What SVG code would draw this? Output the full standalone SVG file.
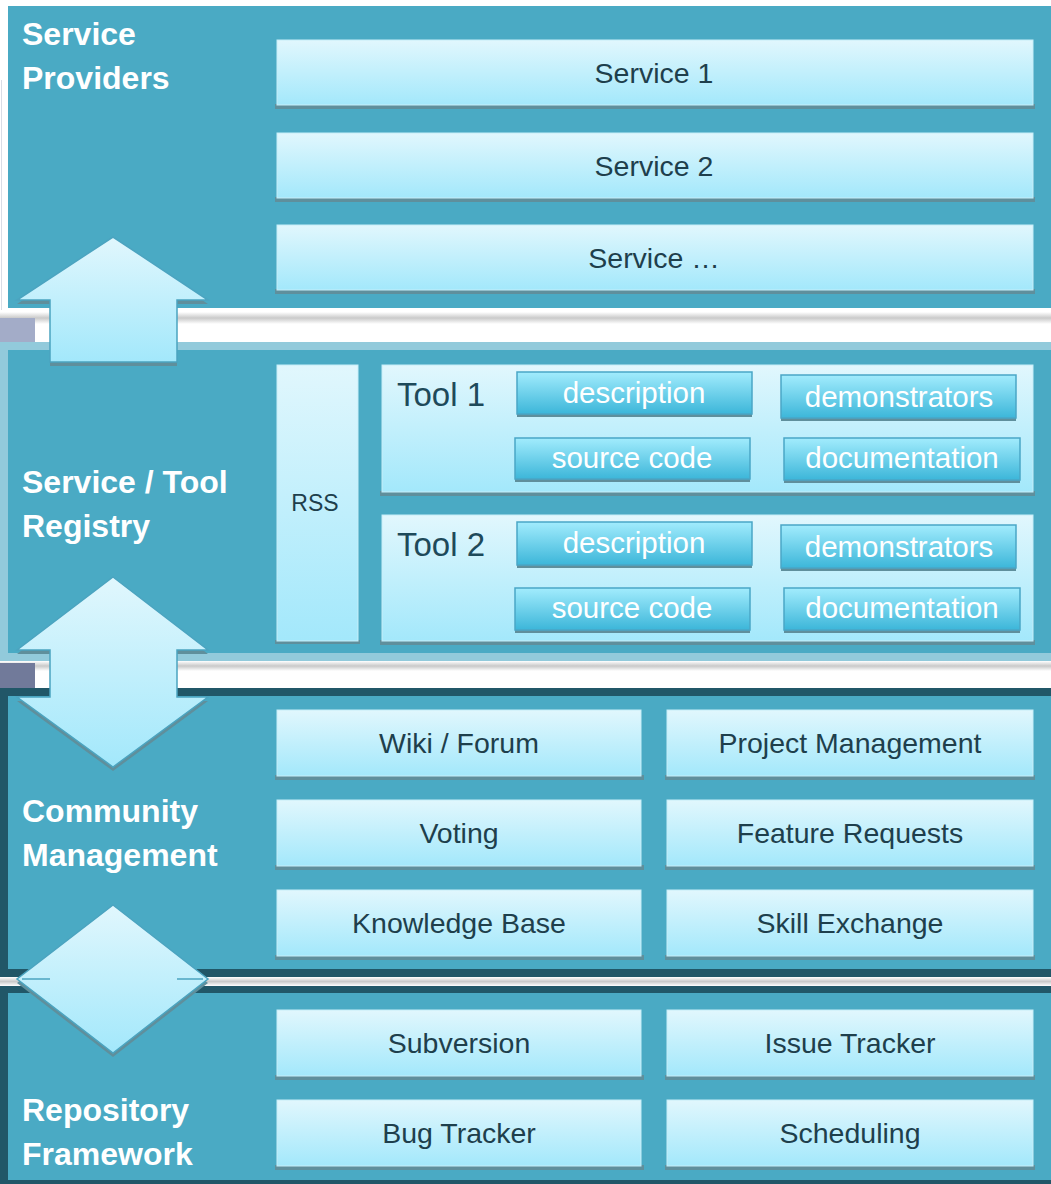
<svg xmlns="http://www.w3.org/2000/svg" width="1051" height="1184" viewBox="0 0 1051 1184">
<defs>
<linearGradient id="lb" x1="0" y1="0" x2="0" y2="1"><stop offset="0" stop-color="#e1f7fd"/><stop offset="1" stop-color="#a3e8fb"/></linearGradient>
<linearGradient id="sb" x1="0" y1="0" x2="0" y2="1"><stop offset="0" stop-color="#a2ecfd"/><stop offset="1" stop-color="#3cb6d9"/></linearGradient>
<linearGradient id="sep" x1="0" y1="0" x2="0" y2="1"><stop offset="0" stop-color="#ffffff"/><stop offset="0.5" stop-color="#c9c9c9"/><stop offset="1" stop-color="#ffffff"/></linearGradient>
<style>
.layer{fill:#4aaac4}
.lbl{font-family:"Liberation Sans",Arial,sans-serif;font-weight:bold;font-size:32px;fill:#ffffff}
.box{fill:url(#lb);stroke:#c6eef8;stroke-width:1}
.sh{fill:#5f8f9c}
.t{font-family:"Liberation Sans",Arial,sans-serif;font-size:28.5px;fill:#1e3f4c;text-anchor:middle}
.sub{fill:url(#sb);stroke:#4aa6c6;stroke-width:1.5}
.st{font-family:"Liberation Sans",Arial,sans-serif;font-size:29.5px;fill:#ffffff;text-anchor:middle}
.tool{font-family:"Liberation Sans",Arial,sans-serif;font-size:33px;fill:#1e4a5a}
.arr{fill:url(#lb);stroke:#4ba4c0;stroke-width:1.5}
.ash{fill:#5f8f9c}
</style>
</defs>
<rect x="0" y="0" width="1051" height="1184" fill="#ffffff"/>

<g id="layer-service-providers">
<line x1="1.5" y1="80" x2="1.5" y2="310" stroke="#d8dde6" stroke-width="1"/>
<rect class="layer" x="8" y="6" width="1043" height="302"/>
<text class="lbl" x="22" y="45">Service</text>
<text class="lbl" x="22" y="89">Providers</text>
</g>
<rect x="0" y="312" width="1051" height="12" fill="url(#sep)"/>
<rect x="0" y="318" width="35" height="25" fill="#a3acc8"/>

<g id="layer-registry">
<rect x="0" y="342" width="1051" height="321" fill="#92cadb"/>
<rect class="layer" x="8" y="350" width="1043" height="303"/>
<text class="lbl" x="22" y="493">Service / Tool</text>
<text class="lbl" x="22" y="537">Registry</text>
</g>
<rect x="0" y="661" width="1051" height="10" fill="url(#sep)"/>
<rect x="0" y="663" width="35" height="25" fill="#717a9a"/>

<g id="layer-community">
<rect x="0" y="688" width="1051" height="289" fill="#215768"/>
<rect class="layer" x="8" y="696" width="1043" height="273"/>
<text class="lbl" x="22" y="822">Community</text>
<text class="lbl" x="22" y="866">Management</text>
</g>
<rect x="0" y="977" width="1051" height="9" fill="url(#sep)"/>

<g id="layer-repository">
<rect x="0" y="986" width="1051" height="198" fill="#215768"/>
<rect class="layer" x="8" y="993" width="1043" height="187"/>
<text class="lbl" x="22" y="1121">Repository</text>
<text class="lbl" x="22" y="1165">Framework</text>
</g>

<g id="service-1"><rect class="sh" x="275" y="104" width="760" height="5"/><rect class="box" x="277" y="40" width="756" height="65"/><text class="t" x="654" y="83">Service 1</text></g>
<g id="service-2"><rect class="sh" x="275" y="197" width="760" height="5"/><rect class="box" x="277" y="133" width="756" height="65"/><text class="t" x="654" y="176">Service 2</text></g>
<g id="service-n"><rect class="sh" x="275" y="289" width="760" height="5"/><rect class="box" x="277" y="225" width="756" height="65"/><text class="t" x="654" y="268">Service …</text></g>

<g id="rss"><rect class="sh" x="275" y="640" width="85" height="4"/><rect class="box" x="277" y="365" width="81" height="276"/><text class="t" x="315" y="511" style="font-size:23px">RSS</text></g>

<g id="tool-1">
<rect class="sh" x="380" y="491" width="655" height="5"/><rect class="box" x="382" y="365" width="651" height="127"/>
<text class="tool" x="397" y="406">Tool 1</text>
<rect class="sh" x="517" y="413" width="235" height="4"/><rect class="sub" x="517" y="372" width="235" height="42"/><text class="st" x="634" y="403">description</text>
<rect class="sh" x="781" y="417" width="235" height="4"/><rect class="sub" x="781" y="375" width="235" height="43"/><text class="st" x="899" y="407">demonstrators</text>
<rect class="sh" x="515" y="478" width="235" height="4"/><rect class="sub" x="515" y="438" width="235" height="41"/><text class="st" x="632" y="468">source code</text>
<rect class="sh" x="784" y="479" width="236" height="4"/><rect class="sub" x="784" y="438" width="236" height="42"/><text class="st" x="902" y="468">documentation</text>
</g>

<g id="tool-2">
<rect class="sh" x="380" y="640" width="655" height="5"/><rect class="box" x="382" y="515" width="651" height="126"/>
<text class="tool" x="397" y="556">Tool 2</text>
<rect class="sh" x="517" y="564" width="235" height="4"/><rect class="sub" x="517" y="522" width="235" height="43"/><text class="st" x="634" y="553">description</text>
<rect class="sh" x="781" y="567" width="235" height="4"/><rect class="sub" x="781" y="525" width="235" height="43"/><text class="st" x="899" y="557">demonstrators</text>
<rect class="sh" x="515" y="629" width="235" height="4"/><rect class="sub" x="515" y="588" width="235" height="42"/><text class="st" x="632" y="618">source code</text>
<rect class="sh" x="784" y="629" width="236" height="4"/><rect class="sub" x="784" y="588" width="236" height="42"/><text class="st" x="902" y="618">documentation</text>
</g>

<g id="wiki-forum"><rect class="sh" x="275" y="775" width="369" height="5"/><rect class="box" x="277" y="710" width="364" height="66"/><text class="t" x="459" y="753">Wiki / Forum</text></g>
<g id="project-management"><rect class="sh" x="665" y="775" width="370" height="5"/><rect class="box" x="667" y="710" width="366" height="66"/><text class="t" x="850" y="753">Project Management</text></g>
<g id="voting"><rect class="sh" x="275" y="865" width="369" height="5"/><rect class="box" x="277" y="800" width="364" height="66"/><text class="t" x="459" y="843">Voting</text></g>
<g id="feature-requests"><rect class="sh" x="665" y="865" width="370" height="5"/><rect class="box" x="667" y="800" width="366" height="66"/><text class="t" x="850" y="843">Feature Requests</text></g>
<g id="knowledge-base"><rect class="sh" x="275" y="955" width="369" height="5"/><rect class="box" x="277" y="890" width="364" height="66"/><text class="t" x="459" y="933">Knowledge Base</text></g>
<g id="skill-exchange"><rect class="sh" x="665" y="955" width="370" height="5"/><rect class="box" x="667" y="890" width="366" height="66"/><text class="t" x="850" y="933">Skill Exchange</text></g>

<g id="subversion"><rect class="sh" x="275" y="1075" width="369" height="5"/><rect class="box" x="277" y="1010" width="364" height="66"/><text class="t" x="459" y="1053">Subversion</text></g>
<g id="issue-tracker"><rect class="sh" x="665" y="1075" width="370" height="5"/><rect class="box" x="667" y="1010" width="366" height="66"/><text class="t" x="850" y="1053">Issue Tracker</text></g>
<g id="bug-tracker"><rect class="sh" x="275" y="1165" width="369" height="5"/><rect class="box" x="277" y="1100" width="364" height="66"/><text class="t" x="459" y="1143">Bug Tracker</text></g>
<g id="scheduling"><rect class="sh" x="665" y="1165" width="370" height="5"/><rect class="box" x="667" y="1100" width="366" height="66"/><text class="t" x="850" y="1143">Scheduling</text></g>

<g id="connectors">
<polygon class="ash" points="113,241 208,304 177,304 177,366 50,366 50,304 17,304"/>
<polygon class="arr" points="113,237 208,300 177,300 177,362 50,362 50,300 17,300"/>
<polygon class="ash" points="113,581 208,654 177,654 177,701 208,701 113,771 17,701 50,701 50,654 17,654"/>
<polygon class="arr" points="113,577 208,650 177,650 177,697 208,697 113,767 17,697 50,697 50,650 17,650"/>
<polygon class="ash" points="113,909 208,983 113,1057 17,983"/>
<polygon class="arr" points="113,905 208,979 113,1053 17,979"/>
<line x1="22" y1="979" x2="50" y2="979" stroke="#4ba4c0" stroke-width="1.5"/>
<line x1="177" y1="979" x2="203" y2="979" stroke="#4ba4c0" stroke-width="1.5"/>
</g>
</svg>
